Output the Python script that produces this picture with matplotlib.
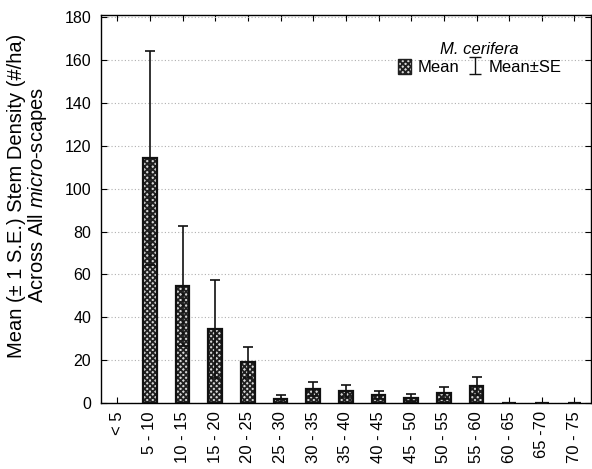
import matplotlib
matplotlib.use("Agg")
import matplotlib.pyplot as plt
from matplotlib.patches import Patch
import numpy as np

plt.rcParams['font.family'] = ['Liberation Sans', 'DejaVu Sans']
plt.rcParams['mathtext.fontset'] = 'custom'
plt.rcParams['mathtext.rm'] = 'Liberation Sans'
plt.rcParams['mathtext.it'] = 'Liberation Sans:italic'
plt.rcParams['hatch.linewidth'] = 1.3

# Diameter classes (cm) and stem density summaries
classes = ["< 5", "5 - 10", "10 - 15", "15 - 20", "20 - 25", "25 - 30", "30 - 35",
           "35 - 40", "40 - 45", "45 - 50", "50 - 55", "55 - 60", "60 - 65",
           "65 -70", "70 - 75"]
mean_density = [0.0, 114.3, 54.4, 34.7, 18.9, 1.8, 6.6, 5.5, 3.9, 2.5, 4.7, 7.9, 0.15, 0.15, 0.15]
se_density = [0.0, 50.0, 28.0, 22.8, 7.3, 1.9, 3.3, 2.7, 1.9, 1.5, 2.6, 4.3, 0.0, 0.0, 0.0]
y_ticks = [0, 20, 40, 60, 80, 100, 120, 140, 160, 180]

fig = plt.figure(figsize=(5.92, 4.69), dpi=100)
ax = fig.add_axes([0.1706, 0.1407, 0.8274, 0.8273])

x = np.arange(len(classes))
has_bar = [m > 0 for m in mean_density]
xb = x[has_bar]
mb = np.array(mean_density)[has_bar]
sb = np.array(se_density)[has_bar]

ax.bar(xb, mb, width=0.42, facecolor='#d8d8d8', edgecolor='#202020', hatch='xxxxxx',
       linewidth=0, zorder=2)
ax.bar(xb, mb, width=0.42, facecolor='none', edgecolor='#111111', linewidth=1.6, zorder=3)
ax.errorbar(xb, mb, yerr=sb, fmt='none', ecolor='#111111', elinewidth=1.2,
            capsize=3.5, capthick=1.2, zorder=4)

ax.set_xlim(-0.5, 14.5)
ax.set_ylim(0, 181)
ax.set_yticks(y_ticks)
ax.set_xticks(x)
ax.set_xticklabels(classes, rotation=90, fontsize=12)
ax.tick_params(axis='y', labelsize=11.5, pad=7)
ax.tick_params(axis='x', pad=6)
ax.tick_params(direction='in', top=True, right=True, length=4, width=0.8)
for s in ax.spines.values():
    s.set_linewidth(1.0)
ax.yaxis.grid(True, linestyle=(0, (1, 2)), color='#b0b0b0', linewidth=0.8)
ax.set_axisbelow(True)

ax.set_ylabel("Mean (\u00b1 1 S.E.) Stem Density (#/ha)\nAcross All $\\mathit{micro}$-scapes",
              fontsize=14.5, linespacing=0.95)
ax.yaxis.set_label_coords(-0.107, 0.535)

# Legend: hatched swatch for the mean and an error-bar glyph for mean ± SE
mean_handle = Patch(facecolor='#d8d8d8', edgecolor='#202020', hatch='xxxxxx', linewidth=1.0)
eb = ax.errorbar([np.nan], [np.nan], yerr=[1], fmt='none', ecolor='#111111',
                 elinewidth=1.0, capsize=4)
leg = ax.legend([mean_handle, eb], ["Mean", "Mean\u00b1SE"], ncol=2, frameon=False,
                title="M. cerifera", title_fontproperties={'style': 'italic', 'size': 12},
                fontsize=12, loc='upper center', bbox_to_anchor=(0.773, 0.955),
                handlelength=0.8, handleheight=1.0, handletextpad=0.4, columnspacing=0.5,
                borderpad=0.1, labelspacing=0.1)

fig.savefig("out.png", dpi=100)
